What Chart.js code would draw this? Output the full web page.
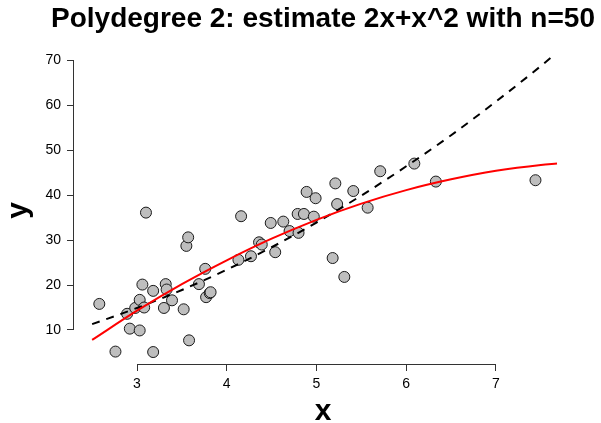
<!DOCTYPE html>
<html>
<head>
<meta charset="utf-8">
<script src="https://cdn.jsdelivr.net/npm/chart.js@4/dist/chart.umd.min.js"></script>
<style>
  html, body { margin: 0; padding: 0; background: #fff; }
  #box { width: 601px; height: 423px; }
</style>
</head>
<body>
<div id="box"><canvas id="polyChart" width="601" height="423"></canvas></div>
<script>
// observed sample (n = 50)
const xObs = [2.58, 2.76, 2.89, 2.92, 2.98, 3.03, 3.03, 3.06, 3.08, 3.10,
              3.18, 3.18, 3.30, 3.32, 3.33, 3.39, 3.52, 3.55, 3.57, 3.58,
              3.69, 3.76, 3.77, 3.81, 3.82, 4.13, 4.16, 4.27, 4.36, 4.39,
              4.49, 4.54, 4.63, 4.70, 4.79, 4.80, 4.86, 4.89, 4.97, 4.99,
              5.18, 5.21, 5.23, 5.31, 5.41, 5.57, 5.71, 6.09, 6.33, 7.44];
const yObs = [15.8, 5.2, 13.6, 10.3, 14.9, 9.9, 16.7, 20.1, 15.0, 36.1,
              5.1, 18.7, 14.9, 20.2, 19.0, 16.6, 14.6, 28.7, 30.6, 7.7,
              20.2, 23.6, 17.3, 18.2, 18.4, 25.6, 35.3, 26.4, 29.5, 29.0,
              33.8, 27.3, 34.1, 32.0, 35.8, 31.6, 35.8, 40.7, 35.2, 39.3,
              26.0, 42.6, 38.0, 21.8, 40.9, 37.2, 45.3, 47.0, 43.0, 43.3];

// curves
const xCurve = [2.5, 3, 3.5, 4, 4.5, 5, 5.5, 6, 6.5, 7, 7.5, 7.68];
const yTrue  = [11.3, 14.9, 18.9, 23.4, 28.4, 33.9, 39.9, 46.4, 53.3, 60.8, 68.7, 71.7];
const yFit   = [7.8, 14.3, 20.2, 25.5, 30.3, 34.5, 38.1, 41.1, 43.5, 45.4, 46.7, 47.0];

const xTicks = [3, 4, 5, 6, 7];
const yTicks = [10, 20, 30, 40, 50, 60, 70];

const TITRE = 'Polydegree 2: estimate 2x+x^2 with n=50';
const FONT = "'Liberation Sans', Arial, Helvetica, sans-serif";

function toPoints(xs, ys) {
    return xs.map((v, i) => ({ x: v, y: ys[i] }));
}

// R style axes: the line only runs from first to last tick,
// and the main title is centred over the plot region
const axesR = {
    id: 'axesR',
    afterDraw(chart) {
        const { ctx, chartArea } = chart;
        const sx = chart.scales.x, sy = chart.scales.y;
        ctx.save();
        ctx.strokeStyle = '#333';
        ctx.lineWidth = 1;
        ctx.beginPath();
        const yb = Math.round(chartArea.bottom) + 0.5;
        ctx.moveTo(sx.getPixelForValue(xTicks[0]), yb);
        ctx.lineTo(sx.getPixelForValue(xTicks[xTicks.length - 1]), yb);
        const xl = Math.round(chartArea.left) - 0.5;
        ctx.moveTo(xl, sy.getPixelForValue(yTicks[0]));
        ctx.lineTo(xl, sy.getPixelForValue(yTicks[yTicks.length - 1]));
        ctx.stroke();

        ctx.fillStyle = '#000';
        ctx.font = 'bold 28px ' + FONT;
        ctx.textAlign = 'center';
        ctx.textBaseline = 'alphabetic';
        ctx.fillText(TITRE, (chartArea.left + chartArea.right) / 2, 27);
        ctx.restore();
    }
};

const ctx = document.getElementById('polyChart').getContext('2d');
const chart = new Chart(ctx, {
    type: 'scatter',
    data: {
        datasets: [
            {
                label: 'fit',
                data: toPoints(xCurve, yFit),
                showLine: true,
                borderColor: '#ff0000',
                borderWidth: 2,
                pointRadius: 0,
                cubicInterpolationMode: 'monotone',
                order: 1
            },
            {
                label: 'true',
                data: toPoints(xCurve, yTrue),
                showLine: true,
                borderColor: '#000',
                borderWidth: 2,
                borderDash: [8, 7],
                pointRadius: 0,
                cubicInterpolationMode: 'monotone',
                order: 2
            },
            {
                label: 'obs',
                data: toPoints(xObs, yObs),
                backgroundColor: '#bebebe',
                borderColor: '#1a1a1a',
                borderWidth: 1,
                pointRadius: 5.5,
                order: 3
            }
        ]
    },
    options: {
        responsive: false,
        animation: false,
        devicePixelRatio: 1,
        layout: { padding: { left: 0, right: 29, top: 57, bottom: 0 } },
        plugins: {
            legend: { display: false },
            tooltip: { enabled: false },
            title: { display: false }
        },
        scales: {
            x: {
                type: 'linear',
                min: 2.298,
                max: 7.847,
                afterBuildTicks: s => { s.ticks = xTicks.map(v => ({ value: v })); },
                afterFit: s => { s.height = 59; },
                border: { display: false },
                grid: { drawOnChartArea: false, drawTicks: true, tickLength: 7, color: '#333' },
                ticks: { color: '#000', padding: 5, font: { family: FONT, size: 14 } },
                title: {
                    display: true,
                    text: 'x',
                    color: '#000',
                    font: { family: FONT, size: 30, weight: 'bold', lineHeight: 0.76 },
                    padding: 0
                }
            },
            y: {
                type: 'linear',
                min: 2.44,
                max: 70.7,
                afterBuildTicks: s => { s.ticks = yTicks.map(v => ({ value: v })); },
                afterFit: s => { s.width = 74; },
                border: { display: false },
                grid: { drawOnChartArea: false, drawTicks: true, tickLength: 7, color: '#333' },
                ticks: { color: '#000', padding: 6, font: { family: FONT, size: 14 } },
                title: {
                    display: true,
                    text: 'y',
                    color: '#000',
                    font: { family: FONT, size: 30, weight: 'bold', lineHeight: 1 },
                    padding: { top: 4, bottom: 0 }
                }
            }
        }
    },
    plugins: [axesR]
});
</script>
</body>
</html>
